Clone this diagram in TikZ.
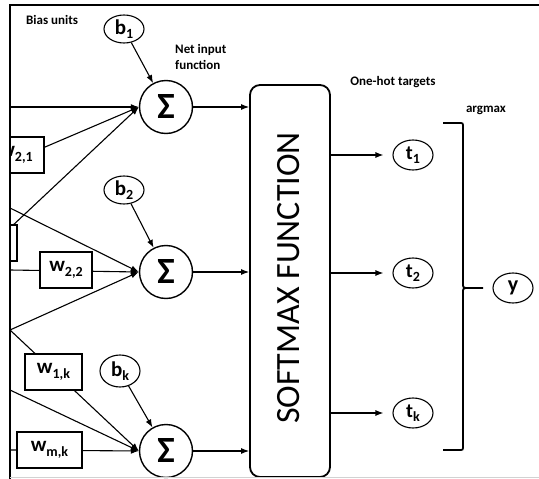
\documentclass[tikz,border=0pt]{standalone}
\usepackage{fontspec}
\setmainfont{Carlito}
\usetikzlibrary{shapes.geometric,arrows.meta}
\newcommand{\bsb}[1]{\raisebox{-4pt}{\fontsize{14}{14}\selectfont #1}}
\newcommand{\wsb}[1]{\raisebox{-4.5pt}{\fontsize{14}{14}\selectfont #1}}
\newcommand{\tsb}[1]{\raisebox{-4pt}{\fontsize{14}{14}\selectfont #1}}
\begin{document}
\begin{tikzpicture}[x=1pt,y=-1pt,
  sig/.style={circle, draw, line width=1.4pt, minimum size=53pt, inner sep=0pt, font=\fontsize{37}{37}\selectfont\bfseries},
  bias/.style={ellipse, draw, line width=1.1pt, minimum width=40pt, minimum height=28pt, inner sep=0pt, font=\fontsize{21}{21}\selectfont\bfseries},
  tgt/.style={ellipse, draw, line width=1.1pt, minimum width=40pt, minimum height=30pt, inner sep=0pt, font=\fontsize{20}{20}\selectfont\bfseries},
  wbox/.style={rectangle, draw, fill=white, line width=1.1pt, minimum height=36pt, inner sep=0pt, font=\fontsize{21}{21}\selectfont\bfseries},
  arr/.style={line width=1.1pt, -{Latex[length=8pt,width=6pt]}},
  brk/.style={line width=1.8pt},
  lbl/.style={font=\fontsize{13}{16}\selectfont\bfseries, align=left, inner sep=0pt}]
\useasboundingbox (0,0) rectangle (539,479);

% summation units
\node[sig] (s1) at (166,107) {Σ};
\node[sig] (s2) at (166,272) {Σ};
\node[sig] (sk) at (166,451) {Σ};

% bias units
\node[bias] (b1) at (124,29) {b\bsb{1}};
\node[bias] (b2) at (124,190) {b\bsb{2}};
\node[bias, minimum height=32pt] (bk) at (120,371) {b\bsb{k}};

% input line starts (on the left frame)
\coordinate (i1a) at (10,107);
\coordinate (i1b) at (10,162);
\coordinate (i1c) at (10,228);
\coordinate (i2a) at (10,208);
\coordinate (i2b) at (10,270);
\coordinate (i2c) at (10,330);
\coordinate (ika) at (10,330);
\coordinate (ikb) at (10,390);
\coordinate (ikc) at (10,450);

\begin{scope}
\clip (10,5) rectangle (539,479);
\draw[arr] (i1a) -- (s1.west);
\draw[arr] (i1b) -- (s1.west);
\draw[arr] (i1c) -- (s1.west);
\draw[arr] (i2a) -- (s2.west);
\draw[arr] (i2b) -- (s2.west);
\draw[arr] (i2c) -- (s2.west);
\draw[arr] (ika) -- (sk.west);
\draw[arr] (ikb) -- (sk.west);
\draw[arr] (ikc) -- (sk.west);
% weight boxes
\node[wbox, minimum width=56pt] (w21) at (16,155) {w\wsb{2,1}};
\node[wbox, minimum width=58pt] (wx) at (-12,243) {};
\node[wbox, minimum width=52pt] (w22) at (66,270) {w\wsb{2,2}};
\node[wbox, minimum width=57pt] (w1k) at (53.5,372) {w\wsb{1,k}};
\node[wbox, minimum width=65pt] (wmk) at (49.5,450) {w\wsb{m,k}};
\end{scope}

% bias arrows
\draw[arr] (b1) -- (s1);
\draw[arr] (b2) -- (s2);
\draw[arr] (bk) -- (sk);

% softmax box
\node[draw, rounded corners=10pt, line width=1.8pt, minimum width=80pt, minimum height=392pt, inner sep=0pt] (sm) at (290,281) {};
\node[rotate=90, font=\fontsize{34}{34}\selectfont, inner sep=0pt] (smt) at (289,278) {SOFTMAX FUNCTION};

\draw[arr] (s1.east) -- (s1.east -| sm.west);
\draw[arr] (s2.east) -- (s2.east -| sm.west);
\draw[arr] (sk.east) -- (sk.east -| sm.west);

% targets
\node[tgt] (t1) at (413,155) {t\tsb{1}};
\node[tgt] (t2) at (413,273) {t\tsb{2}};
\node[tgt] (tk) at (413,413) {t\tsb{k}};
\draw[arr, shorten >=9pt] (sm.east |- t1) -- (t1.west);
\draw[arr, shorten >=9pt] (sm.east |- t2) -- (t2.west);
\draw[arr, shorten >=9pt] (sm.east |- tk) -- (tk.west);

% argmax bracket and output
\node[tgt, font=\fontsize{22}{22}\selectfont\bfseries] (y) at (513,288) {y};
\coordinate (bt) at (443,123);
\coordinate (bb) at (443,450);
\coordinate (bm) at (483,288);
\draw[brk] (bt) -- (459,123) .. controls (463,123) .. (463,127) -- (463,283) .. controls (463,288) .. (469,288) -- (bm);
\draw[brk] (469,288) .. controls (463,288) .. (463,293) -- (463,446) .. controls (463,450) .. (459,450) -- (bb);

% labels
\node[lbl, anchor=west] (lbias) at (26,20) {Bias units};
\node[lbl, anchor=west] (lnet) at (175,57) {Net input\\function};
\node[lbl] (lhot) at (393,82) {One-hot targets};
\node[lbl] (larg) at (486,110) {argmax};

% frame
\draw[line width=2.5pt, line join=miter] (10,479) -- (10,5) -- (539,5);
\draw[gray!35, line width=1pt] (10,477.5) -- (539,477.5);
\end{tikzpicture}
\end{document}
